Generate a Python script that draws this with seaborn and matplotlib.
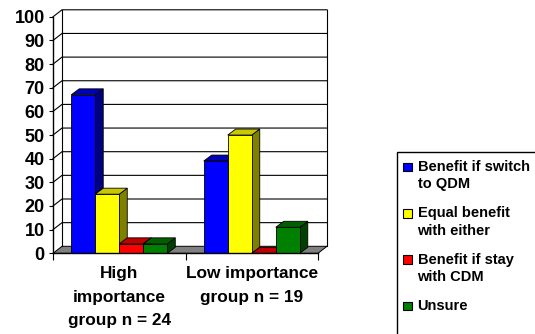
import numpy as np
import pandas as pd
import matplotlib
matplotlib.use("Agg")
import matplotlib.pyplot as plt
from matplotlib.patches import Polygon, Rectangle
import seaborn as sns

# ---- data -------------------------------------------------------------
groups = ["High\nimportance\ngroup n = 24", "Low importance\ngroup n = 19"]
responses = ["Benefit if switch\nto QDM", "Equal benefit\nwith either",
             "Benefit if stay\nwith CDM", "Unsure"]
high_importance = [67, 25, 4, 4]
low_importance = [39, 50, 0, 11]
y_ticks = [0, 10, 20, 30, 40, 50, 60, 70, 80, 90, 100]

# ---- styling ----------------------------------------------------------
front_colors = ["#0000FF", "#FFFF00", "#FF0000", "#008000"]
top_colors = ["#0000B4", "#C8C800", "#C00000", "#006000"]
side_colors = ["#000080", "#808000", "#800000", "#004000"]

plt.rcParams["font.family"] = ["Liberation Sans", "DejaVu Sans"]
plt.rcParams["font.weight"] = "bold"

W, H = 535, 334
fig = plt.figure(figsize=(W / 100, H / 100), dpi=100)
fig.patch.set_facecolor("white")

# front plane of the plot box, in pixels
left_px, right_px, bottom_px, top_px = 53, 318, 253.3, 16.8
ax = fig.add_axes([left_px / W, (H - bottom_px) / H,
                   (right_px - left_px) / W, (bottom_px - top_px) / H])

df = pd.DataFrame({
    "group": np.repeat(groups, len(responses)),
    "response": responses * len(groups),
    "value": high_importance + low_importance,
})

sns.barplot(data=df, x="group", y="value", hue="response",
            hue_order=responses, order=groups,
            palette=front_colors, saturation=1, width=0.725, gap=0,
            edgecolor="black", linewidth=0.6, errorbar=None,
            legend=False, ax=ax)

ax.set_xlim(-0.5, 1.5)
ax.set_ylim(0, 100)
ax.set_facecolor("none")

# pixel -> data unit conversions
px_x = (right_px - left_px) / 2.0
px_y = (bottom_px - top_px) / 100.0

# depth of bars and of the wall/floor
bdx, bdy = 8 / px_x, 6 / px_y
wdx, wdy = 9 / px_x, 7 / px_y

line_kw = dict(color="black", linewidth=0.8, clip_on=False)

bars = sorted(list(ax.patches), key=lambda p: p.get_x())

# floor
x0, x1 = ax.get_xlim()
floor = Polygon([(x0, 0), (x1, 0), (x1 + wdx, wdy), (x0 + wdx, wdy)],
                closed=True, facecolor="#808080", edgecolor="black",
                linewidth=0.7, clip_on=False, zorder=1)
ax.add_patch(floor)

# back wall with gridlines
for v in y_ticks[1:]:
    ax.plot([x0, x0 + wdx, x1 + wdx], [v, v + wdy, v + wdy], zorder=1.5, **line_kw)
ax.plot([x0 + wdx, x0 + wdx], [wdy, 100 + wdy], zorder=1.5, **line_kw)
ax.plot([x1 + wdx, x1 + wdx], [wdy, 100 + wdy], zorder=1.5, **line_kw)

# 3D faces on each bar, painted left to right
color_index = {c: i for i, c in enumerate(front_colors)}
for k, bar in enumerate(bars):
    xa = bar.get_x()
    xb = xa + bar.get_width()
    h = bar.get_height()
    fc = matplotlib.colors.to_hex(bar.get_facecolor()).upper()
    ci = color_index.get(fc, 0)
    base = 2 + k * 0.1
    side = Polygon([(xb, 0), (xb + bdx, bdy), (xb + bdx, h + bdy), (xb, h)],
                   closed=True, facecolor=side_colors[ci], edgecolor="black",
                   linewidth=0.6, zorder=base, clip_on=False)
    top = Polygon([(xa, h), (xb, h), (xb + bdx, h + bdy), (xa + bdx, h + bdy)],
                  closed=True, facecolor=top_colors[ci], edgecolor="black",
                  linewidth=0.6, zorder=base + 0.01, clip_on=False)
    ax.add_patch(side)
    ax.add_patch(top)
    bar.set_zorder(base + 0.02)
    bar.set_clip_on(False)

# axes, ticks, labels
for s in ["top", "right"]:
    ax.spines[s].set_visible(False)
for s in ["left", "bottom"]:
    ax.spines[s].set_linewidth(1.0)
    ax.spines[s].set_color("black")
    ax.spines[s].set_zorder(5)

ax.set_yticks(y_ticks)
ax.set_yticklabels([str(v) for v in y_ticks], fontsize=13, fontweight="bold")
ax.tick_params(axis="y", direction="out", length=3, width=0.8, pad=3)

ax.set_xticks([0, 1])
ax.set_xticklabels(groups, fontsize=12.4, fontweight="bold")
ax.set_xticks([-0.5, 0.5, 1.5], minor=True)
ax.tick_params(axis="x", which="major", length=0, pad=9.5)
ax.tick_params(axis="x", which="minor", direction="out", length=5, width=0.8)
for t in ax.get_xticklabels():
    t.set_linespacing(1.68)
ax.set_xlabel("")
ax.set_ylabel("")

# legend panel
fig.patches.append(Rectangle((397 / W, -0.2), 0.5, (H - 152) / H + 0.2,
                             transform=fig.transFigure, facecolor="white",
                             edgecolor="black", linewidth=1.0, zorder=0))
first_center, step = 167.0, 46.3
for i, label in enumerate(responses):
    yc = first_center + i * step
    sq = 8.5
    fig.patches.append(Rectangle((403 / W, (H - yc - sq / 2) / H), sq / W, sq / H,
                                 transform=fig.transFigure,
                                 facecolor=front_colors[i], edgecolor="black",
                                 linewidth=0.8, zorder=2))
    fig.text(417.5 / W, (H - yc + 7.0) / H, label, fontsize=10.5,
             fontweight="bold", ha="left", va="top", linespacing=1.3)

fig.savefig("out.png", dpi=100, facecolor="white")
